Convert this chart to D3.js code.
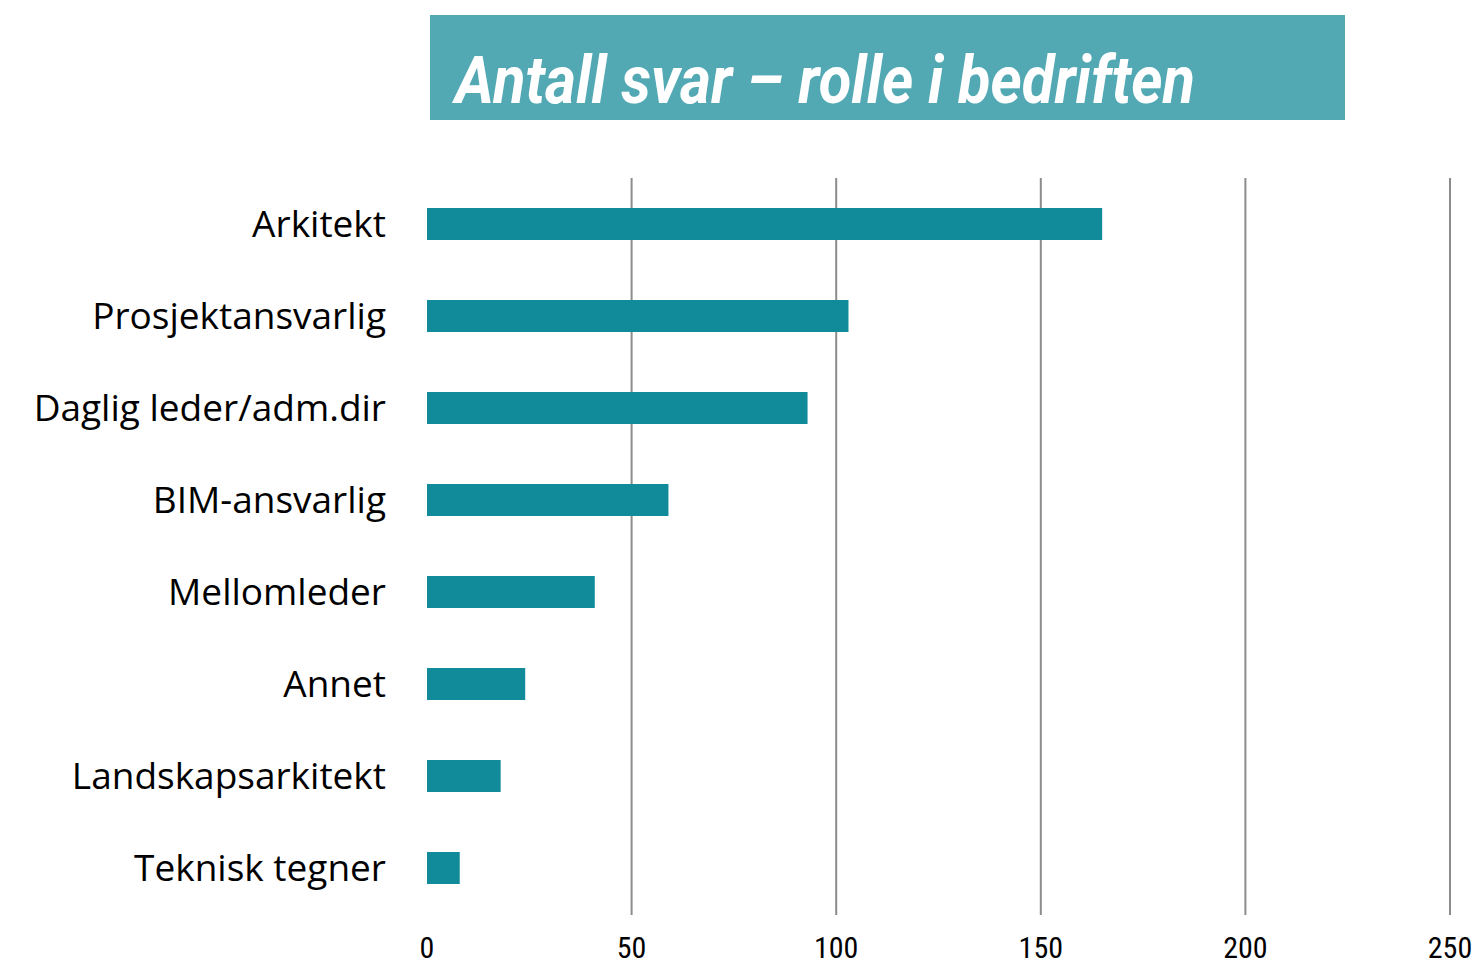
<!DOCTYPE html>
<html>
<head>
<meta charset="utf-8">
<script src="https://cdn.jsdelivr.net/npm/d3@7"></script>
<style>
	body { margin: 0; background: #fff; }
	svg { display: block; }
</style>
</head>
<body>
<svg id="chart"></svg>
<script>
const roles = ['Arkitekt', 'Prosjektansvarlig', 'Daglig leder/adm.dir', 'BIM-ansvarlig', 'Mellomleder', 'Annet', 'Landskapsarkitekt', 'Teknisk tegner'];
const answers = [165, 103, 93, 59, 41, 24, 18, 8];
const ticks = [0, 50, 100, 150, 200, 250];
const title = 'Antall svar – rolle i bedriften';

const config = {
	bar: '#118A9A',
	titleBox: '#52A9B4',
	grid: '#8c8c8c'
};

const width = 1480, height = 968;
const svg = d3.select('#chart').attr('width', width).attr('height', height);

const x = d3.scaleLinear().domain([0, 250]).range([427, 1450]);
const y = d3.scaleBand().domain(roles).range([178, 914]).paddingInner(0.652).paddingOuter(0.326);

// title banner
svg.append('rect')
	.attr('x', 430).attr('y', 15)
	.attr('width', 915).attr('height', 105)
	.attr('fill', config.titleBox);

svg.append('text')
	.attr('x', 455).attr('y', 103)
	.attr('textLength', 740)
	.attr('lengthAdjust', 'spacingAndGlyphs')
	.style('font-family', 'Roboto')
	.style('font-weight', 'bold')
	.style('font-style', 'italic')
	.style('font-size', '66px')
	.attr('fill', '#fff')
	.text(title);

// grid lines
svg.append('g')
	.selectAll('line')
	.data(ticks.filter(d => d > 0))
	.enter()
	.append('line')
	.attr('x1', d => x(d)).attr('x2', d => x(d))
	.attr('y1', 178).attr('y2', 915)
	.attr('stroke', config.grid)
	.attr('stroke-width', 2);

// bars
svg.append('g')
	.selectAll('rect')
	.data(roles)
	.enter()
	.append('rect')
	.attr('x', x(0))
	.attr('y', d => y(d))
	.attr('width', (d, i) => x(answers[i]) - x(0))
	.attr('height', y.bandwidth())
	.attr('fill', config.bar);

// category labels
svg.append('g')
	.selectAll('text')
	.data(roles)
	.enter()
	.append('text')
	.attr('x', 386)
	.attr('y', d => y(d) + y.bandwidth() / 2)
	.attr('dy', '0.36em')
	.attr('text-anchor', 'end')
	.style('font-family', 'Open Sans')
	.style('font-size', '37px')
	.attr('fill', '#000')
	.text(d => d);

// x axis labels
svg.append('g')
	.selectAll('text')
	.data(ticks)
	.enter()
	.append('text')
	.attr('x', d => x(d))
	.attr('y', 958)
	.attr('text-anchor', 'middle')
	.style('font-family', '"Liberation Sans Narrow", "Roboto Condensed", sans-serif')
	.style('font-size', '30px')
	.attr('fill', '#000')
	.text(d => d);
</script>
</body>
</html>
